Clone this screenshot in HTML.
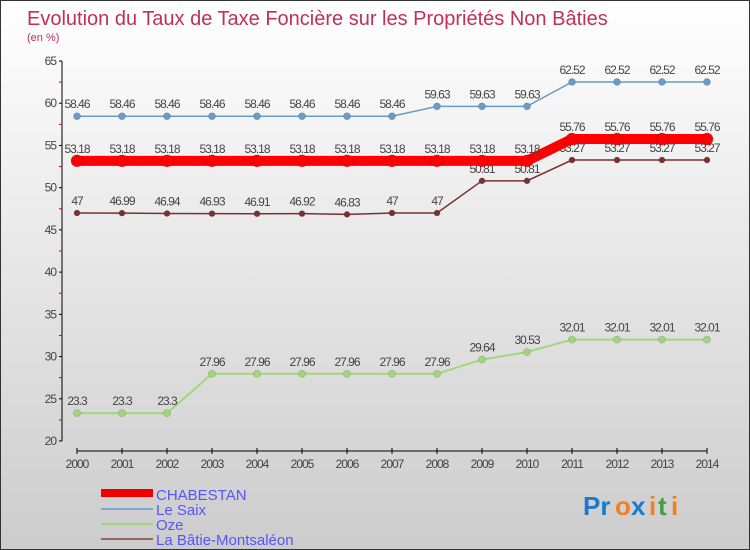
<!DOCTYPE html>
<html><head><meta charset="utf-8"><style>
body{margin:0;width:750px;height:550px;overflow:hidden}
#c{position:relative;width:748px;height:548px;border:1px solid #333;background:linear-gradient(#fff,#ccc);font-family:"Liberation Sans",sans-serif}
</style></head><body>
<div id="c">
<svg id="s" width="748" height="548" style="position:absolute;left:0;top:0">
<text x="26" y="24" font-size="20" fill="#c0305a">Evolution du Taux de Taxe Foncière sur les Propriétés Non Bâties</text>
<text x="26" y="40" font-size="11" fill="#c0305a">(en %)</text>
<g id="g"></g>
<rect x="100" y="488" width="52" height="8" fill="#e00"/>
<line x1="100" y1="508" x2="152" y2="508" stroke="#7aa8d0" stroke-width="2"/>
<line x1="100" y1="523" x2="152" y2="523" stroke="#9fd87a" stroke-width="2"/>
<line x1="100" y1="538" x2="152" y2="538" stroke="#996666" stroke-width="2"/>
<g font-size="15" fill="#55f">
<text x="155" y="499">CHABESTAN</text>
<text x="155" y="514">Le Saix</text>
<text x="155" y="529">Oze</text>
<text x="155" y="544">La Bâtie-Montsaléon</text>
</g>
<g font-size="26" font-weight="bold">
<text x="582" y="514" fill="#1a7ad0">Pr</text><text x="614" y="514" fill="#f08020">o</text><text x="630" y="514" fill="#1a7ad0">x</text><text x="648" y="514" fill="#f08020">i</text><text x="657" y="514" fill="#40a040">t</text><text x="670" y="514" fill="#f08020">i</text>
</g>
</svg>
</div>
<script>
const years=[2000,2001,2002,2003,2004,2005,2006,2007,2008,2009,2010,2011,2012,2013,2014];
const yTicks=[20,25,30,35,40,45,50,55,60,65];
const chabestan=[53.18,53.18,53.18,53.18,53.18,53.18,53.18,53.18,53.18,53.18,53.18,55.76,55.76,55.76,55.76];
const leSaix=[58.46,58.46,58.46,58.46,58.46,58.46,58.46,58.46,59.63,59.63,59.63,62.52,62.52,62.52,62.52];
const oze=[23.3,23.3,23.3,27.96,27.96,27.96,27.96,27.96,27.96,29.64,30.53,32.01,32.01,32.01,32.01];
const batie=[47,46.99,46.94,46.93,46.91,46.92,46.83,47,47,50.81,50.81,53.27,53.27,53.27,53.27];
const NS="http://www.w3.org/2000/svg",g=document.getElementById('g');
const X=i=>76+i*45,Y=v=>440-(v-20)*380/45;
function el(t,a){const e=document.createElementNS(NS,t);for(const k in a)e.setAttribute(k,a[k]);g.appendChild(e);return e;}
let e=el('line',{x1:61,y1:60,x2:61,y2:440,stroke:'#000'});


e=el('line',{x1:76,y1:450,x2:706,y2:450,stroke:'#000'});


yTicks.forEach(v=>{
 el('line',{x1:58,y1:Y(v),x2:61,y2:Y(v),stroke:'#000'});
 if(v<65){el('line',{x1:58,y1:Y(v+2.5),x2:61,y2:Y(v+2.5),stroke:'#d00'});}
 const t=el('text',{x:55,y:Y(v)+4,'font-size':12,fill:'#444','text-anchor':'end',"letter-spacing":"-1"});t.textContent=v;
 
 
});
years.forEach((yr,i)=>{
 el('line',{x1:X(i),y1:447,x2:X(i),y2:453,stroke:'#000'});
 const t=el('text',{x:X(i),y:467,'font-size':12,fill:'#444','text-anchor':'middle',"letter-spacing":"-1"});t.textContent=yr;
 
 
});
function series(d,col,w,r,name){
 const p=el('polyline',{points:d.map((v,i)=>X(i)+','+Y(v)).join(' '),fill:'none',stroke:col,'stroke-width':w});
 
 
 d.forEach((v,i)=>{
  const c=el('circle',{cx:X(i),cy:Y(v),r:r,fill:col,stroke:'#0002'});
  
  
  const t=el('text',{x:X(i),y:Y(v)-8,'font-size':12,fill:'#444','text-anchor':'middle',"letter-spacing":"-1"});
  t.textContent=v;
  
  
 });
}
series(oze,'#9fd87a',2,3.5,'oze');
series(batie,'#7a3030',1.5,3,'la-batie');
series(leSaix,'#6a9cc8',1.5,3.5,'le-saix');
series(chabestan,'#f00',10,6,'chabestan');
</script>
</body></html>
